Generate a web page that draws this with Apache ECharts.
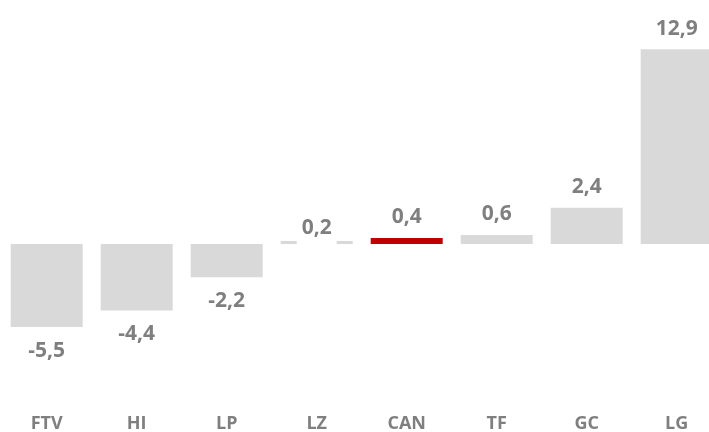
<!DOCTYPE html>
<html>
<head>
<meta charset="utf-8">
<script src="https://cdn.jsdelivr.net/npm/echarts@6/dist/echarts.min.js"></script>
<style>
  html, body { margin: 0; padding: 0; background: #fff; }
  #chart { width: 709px; height: 432px; }
</style>
</head>
<body>
<div id="chart"></div>
<script>
// categories and values
var categories = ['FTV', 'HI', 'LP', 'LZ', 'CAN', 'TF', 'GC', 'LG'];
var values = [-5.5, -4.4, -2.2, 0.2, 0.4, 0.6, 2.4, 12.9];
var highlight = 'CAN';

var grey = '#d9d9d9';
var red = '#c00000';
var textGrey = '#7f7f7f';
var font = '"Open Sans", sans-serif';

var chart = echarts.init(document.getElementById('chart'));

var data = values.map(function (v, i) {
  var item = {
    value: v,
    itemStyle: { color: categories[i] === highlight ? red : grey }
  };
  if (v < 0) {
    item.label = { position: 'bottom', distance: 13 };
  } else if (categories[i] === 'LZ') {
    // small bar: label sits on it with a white box
    item.label = {
      position: 'top',
      distance: -5,
      backgroundColor: '#fff',
      padding: [0, 5, 7, 5]
    };
  }
  return item;
});

var option = {
  animation: false,
  grid: {
    left: 1.7, width: 720, top: 32.6, bottom: 67.2,
    containLabel: false,
    outerBoundsMode: 'none'
  },
  xAxis: {
    type: 'category',
    data: categories,
    position: 'bottom',
    axisLine: { show: false, onZero: false },
    axisTick: { show: false },
    axisLabel: {
      margin: 50,
      color: textGrey,
      fontFamily: font,
      fontWeight: 'bold',
      fontSize: 18
    }
  },
  yAxis: {
    type: 'value',
    min: -8,
    max: 14,
    show: false,
    splitLine: { show: false }
  },
  series: [{
    type: 'bar',
    data: data,
    barCategoryGap: '20%',
    label: {
      show: true,
      position: 'top',
      distance: 10,
      color: textGrey,
      fontFamily: font,
      fontWeight: 'bold',
      fontSize: 21,
      formatter: function (p) {
        return String(p.value).replace('.', ',');
      }
    }
  }]
};

chart.setOption(option);
</script>
</body>
</html>
